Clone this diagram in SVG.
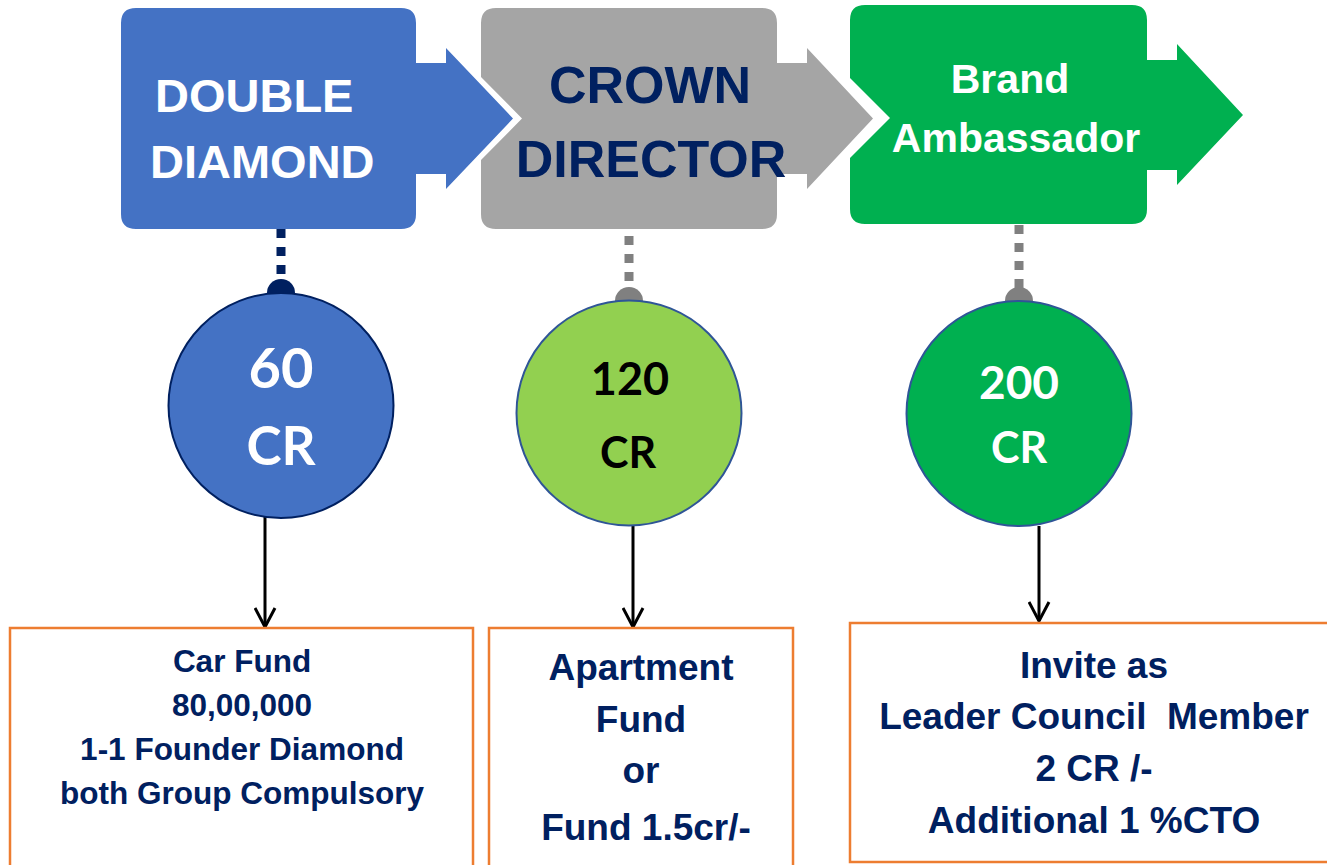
<svg xmlns="http://www.w3.org/2000/svg" width="1327" height="865" viewBox="0 0 1327 865">
  <defs>
    <style>
      .hdr { font-family: "Liberation Sans", Arial, sans-serif; font-weight: bold; }
      .circ { font-family: Lato, "Open Sans", sans-serif; font-weight: bold; text-anchor: middle; }
      .box { fill: #FFFFFF; stroke: #ED7D31; stroke-width: 2.5; }
      .boxtxt { font-family: "Liberation Sans", Arial, sans-serif; font-weight: bold; fill: #002060; text-anchor: middle; white-space: pre; }
      .dotnavy { stroke: #002060; stroke-width: 9; stroke-dasharray: 9 9; fill: none; }
      .dotgray { stroke: #808080; stroke-width: 9; stroke-dasharray: 9 9; fill: none; }
      .conn { stroke: #000000; stroke-width: 3; fill: none; }
    </style>
    <marker id="openArrow" markerWidth="24" markerHeight="24" refX="11" refY="20" orient="0" markerUnits="userSpaceOnUse">
      <path d="M1,1 L11,20 L21,1" fill="none" stroke="#000000" stroke-width="3"/>
    </marker>
  </defs>

  <rect x="0" y="0" width="1327" height="865" fill="#FFFFFF"/>

  <!-- header shapes -->
  <g id="node-double-diamond">
    <path d="M136,8 H401 Q416,8 416,23 V63 H446 V48 L513,118.5 L446,189 V174 H416 V214 Q416,229 401,229 H136 Q121,229 121,214 V23 Q121,8 136,8 Z" fill="#4472C4"/>
    <text class="hdr" x="155" y="112" font-size="47" fill="#FFFFFF">DOUBLE</text>
    <text class="hdr" x="150" y="178" font-size="47" fill="#FFFFFF">DIAMOND</text>
  </g>

  <g id="node-crown-director">
    <path d="M496,8 H762 Q777,8 777,23 V63 H807 V48 L873,118.5 L807,189 V174 H777 V214 Q777,229 762,229 H496 Q481,229 481,214 V160 L522,118.5 L481,77 V23 Q481,8 496,8 Z" fill="#A5A5A5"/>
    <text class="hdr" x="650" y="103" font-size="52" fill="#002060" text-anchor="middle">CROWN</text>
    <text class="hdr" x="651" y="177" font-size="52" fill="#002060" text-anchor="middle">DIRECTOR</text>
  </g>

  <g id="node-brand-ambassador">
    <path d="M865,5 H1132 Q1147,5 1147,20 V60 H1177 V44 L1243,115 L1177,185 V170 H1147 V209 Q1147,224 1132,224 H865 Q850,224 850,209 V158 L890,118 L850,78 V20 Q850,5 865,5 Z" fill="#00B050"/>
    <text class="hdr" x="1010" y="93" font-size="41" fill="#FFFFFF" text-anchor="middle">Brand</text>
    <text class="hdr" x="1016" y="152" font-size="41" fill="#FFFFFF" text-anchor="middle">Ambassador</text>
  </g>

  <!-- connectors -->
  <g id="connectors">
    <line class="dotnavy" x1="281" y1="229" x2="281" y2="284"/>
    <line class="dotgray" x1="629" y1="236" x2="629" y2="290"/>
    <line class="dotgray" x1="1019" y1="225" x2="1019" y2="290"/>
    <path d="M267,293 A14,14 0 0 1 295,293 Z" fill="#002060"/>
    <path d="M615,301 A14,14 0 0 1 643,301 Z" fill="#808080"/>
    <path d="M1005,301 A14,14 0 0 1 1033,301 Z" fill="#808080"/>
    <line class="conn" x1="265" y1="517" x2="265" y2="627" marker-end="url(#openArrow)"/>
    <line class="conn" x1="633" y1="525" x2="633" y2="627" marker-end="url(#openArrow)"/>
    <line class="conn" x1="1039" y1="526" x2="1039" y2="621" marker-end="url(#openArrow)"/>
  </g>

  <!-- circles -->
  <g id="node-60cr">
    <circle cx="281" cy="405.5" r="112.5" fill="#4472C4" stroke="#002060" stroke-width="2"/>
    <text class="circ" x="281" y="388" font-size="56" fill="#FFFFFF">60</text>
    <text class="circ" x="281" y="465" font-size="53" fill="#FFFFFF">CR</text>
  </g>

  <g id="node-120cr">
    <circle cx="629" cy="413" r="112.5" fill="#92D050" stroke="#2F5597" stroke-width="2"/>
    <text class="circ" x="630" y="395" font-size="45" fill="#000000">120</text>
    <text class="circ" x="628" y="468" font-size="43" fill="#000000">CR</text>
  </g>

  <g id="node-200cr">
    <circle cx="1019" cy="413.5" r="112.5" fill="#00B050" stroke="#2F5597" stroke-width="2"/>
    <text class="circ" x="1019" y="399" font-size="46" fill="#FFFFFF">200</text>
    <text class="circ" x="1019" y="463" font-size="43" fill="#FFFFFF">CR</text>
  </g>

  <!-- boxes -->
  <g id="node-car-fund">
    <rect class="box" x="10" y="628" width="463" height="260"/>
    <text class="boxtxt" x="242" y="672" font-size="31.5">Car Fund</text>
    <text class="boxtxt" x="242" y="716" font-size="31.5">80,00,000</text>
    <text class="boxtxt" x="242" y="760" font-size="31.5">1-1 Founder Diamond</text>
    <text class="boxtxt" x="242" y="804" font-size="31.5">both Group Compulsory</text>
  </g>

  <g id="node-apartment-fund">
    <rect class="box" x="489" y="628" width="304" height="260"/>
    <text class="boxtxt" x="641" y="680" font-size="37">Apartment</text>
    <text class="boxtxt" x="641" y="732" font-size="37">Fund</text>
    <text class="boxtxt" x="641" y="783" font-size="37">or</text>
    <text class="boxtxt" x="646" y="840" font-size="37">Fund 1.5cr/-</text>
  </g>

  <g id="node-leader-council">
    <rect class="box" x="850" y="623" width="500" height="239"/>
    <text class="boxtxt" x="1094" y="678" font-size="37">Invite as</text>
    <text class="boxtxt" x="1094" y="729" font-size="37" xml:space="preserve">Leader Council  Member</text>
    <text class="boxtxt" x="1094" y="781" font-size="37">2 CR /-</text>
    <text class="boxtxt" x="1094" y="833" font-size="37">Additional 1 %CTO</text>
  </g>
</svg>
